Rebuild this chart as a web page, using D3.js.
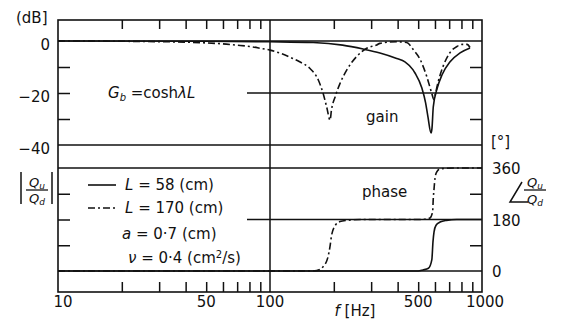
<!DOCTYPE html>
<html>
<head>
<meta charset="utf-8">
<script src="https://cdn.jsdelivr.net/npm/d3@7"></script>
<style>
  body { margin: 0; background: #fff; }
  text { font-family: 'DejaVu Sans', sans-serif; fill: #111; }
</style>
</head>
<body>
<div id="chart"></div>
<script>
// frequency axis
const freqLabels = [10, 50, 100, 500, 1000];
const freqMinor = [20, 30, 40, 50, 60, 70, 80, 90, 200, 300, 400, 500, 600, 700, 800, 900];
// gain axis (dB) and phase axis (deg)
const gainLabels = [0, -20, -40];
const gainMinorLeft = [-10, -20, -30];
const gainMinorRight = [-10, -30];
const phaseLabels = [0, 180, 360];
const phaseMinorLeft = [90, 180, 270];
const phaseMinorRight = [90, 270];

// gain curves [f (Hz), dB]
const gainL58 = [[10, 0], [50, -0.1], [100, -0.3], [160, -0.6], [220, -1.6], [275, -3.1], [330, -4.6],
  [396, -6.7], [433, -8.0], [472, -11], [483, -12.3], [520, -18], [542, -23.8], [556, -29.2],
  [575, -35.4], [581, -33.5], [589, -25.4], [613, -18.5], [648, -13], [707, -8], [788, -4.6], [878, -2.7]];
const gainL170 = [[10, 0], [20, -0.1], [30, -0.25], [40, -0.45], [50, -0.75], [60, -1.1], [70, -1.6],
  [80, -2.1], [90, -2.8], [100, -3.5], [128, -6.7], [138, -8.0], [154, -10.5], [169, -15], [178, -20.1],
  [185, -25.3], [192, -30.4], [195, -26.5], [203, -21.4], [214, -16.3], [230, -11.2], [256, -6.0],
  [286, -2.8], [319, -1.5], [330, -0.9], [396, -0.3], [441, -0.6], [474, -3.3], [510, -7], [548, -13.5],
  [579, -20], [593, -22.5], [600, -21], [620, -16], [655, -9.8], [707, -4.4], [762, -2.1], [813, -1.3],
  [850, -1.3], [878, -2.5]];

// phase curves [f (Hz), deg]
const phaseL58 = [[10, 0], [500, 0], [526, 3.6], [559, 9.7], [580, 40], [587, 101], [594, 137],
  [607, 160], [634, 171], [680, 177], [760, 180], [1000, 180]];
const phaseL170 = [[10, 0], [150, 0], [166, 2], [178, 15], [188, 51], [192, 87], [195, 123], [203, 159],
  [214, 173], [230, 177], [270, 180], [500, 180], [538, 181], [568, 185], [585, 208], [589, 253],
  [594, 287], [600, 323], [611, 346], [634, 357], [680, 359], [760, 360], [1000, 360]];

const W = 561, H = 326;
const frame = {top: 20, bottom: 292, left: 58, right: 482};
const ink = '#111';

const svg = d3.select('#chart').append('svg')
  .attr('width', W).attr('height', H);

const x = d3.scaleLog().domain([10, 1000]).range([frame.left, frame.right]);
const yGain = d3.scaleLinear().domain([0, -40]).range([41, 145]);
const yPhase = d3.scaleLinear().domain([0, 360]).range([271, 168]);

// frame
svg.append('rect')
  .attr('x', frame.left).attr('y', frame.top)
  .attr('width', frame.right - frame.left).attr('height', frame.bottom - frame.top)
  .attr('fill', 'none').attr('stroke', ink).attr('stroke-width', 1.6);

// vertical line at 100 Hz
svg.append('line')
  .attr('x1', x(100)).attr('x2', x(100)).attr('y1', frame.top).attr('y2', frame.bottom)
  .attr('stroke', ink).attr('stroke-width', 1.5);

// full-width horizontal lines
const hFull = [yGain(0), yGain(-40), yPhase(360), yPhase(0)];
hFull.forEach(y => {
  svg.append('line').attr('x1', frame.left).attr('x2', frame.right).attr('y1', y).attr('y2', y)
    .attr('stroke', ink).attr('stroke-width', 1.5);
});
// partial lines at -20 dB and 180 deg
[yGain(-20), yPhase(180)].forEach(y => {
  svg.append('line').attr('x1', 247).attr('x2', frame.right).attr('y1', y).attr('y2', y)
    .attr('stroke', ink).attr('stroke-width', 1.5);
});

function styleAxis(g) {
  g.select('.domain').remove();
  g.selectAll('.tick line').attr('stroke', ink).attr('stroke-width', 1.5);
  g.selectAll('.tick text').remove();
}

// top ticks (hanging down) and bottom ticks (pointing up)
svg.append('g').attr('transform', 'translate(0,' + frame.top + ')')
  .call(d3.axisBottom(x).tickValues(freqMinor).tickSize(9))
  .call(styleAxis);
svg.append('g').attr('transform', 'translate(0,' + frame.bottom + ')')
  .call(d3.axisTop(x).tickValues(freqMinor).tickSize(10))
  .call(styleAxis);

// left / right ticks
svg.append('g').attr('transform', 'translate(' + frame.left + ',0)')
  .call(d3.axisRight(yGain).tickValues(gainMinorLeft).tickSize(12)).call(styleAxis);
svg.append('g').attr('transform', 'translate(' + frame.right + ',0)')
  .call(d3.axisLeft(yGain).tickValues(gainMinorRight).tickSize(12)).call(styleAxis);
svg.append('g').attr('transform', 'translate(' + frame.left + ',0)')
  .call(d3.axisRight(yPhase).tickValues(phaseMinorLeft).tickSize(12)).call(styleAxis);
svg.append('g').attr('transform', 'translate(' + frame.right + ',0)')
  .call(d3.axisLeft(yPhase).tickValues(phaseMinorRight).tickSize(12)).call(styleAxis);

// curves
const gainLine = d3.line().curve(d3.curveMonotoneX)
  .x(d => x(d[0])).y(d => yGain(d[1]));
const phaseLine = d3.line().curve(d3.curveMonotoneX)
  .x(d => x(d[0])).y(d => yPhase(d[1]));

const dashDot = '7,3,2,3';
svg.append('path').datum(gainL58).attr('d', gainLine)
  .attr('fill', 'none').attr('stroke', ink).attr('stroke-width', 1.6);
svg.append('path').datum(gainL170).attr('d', gainLine)
  .attr('fill', 'none').attr('stroke', ink).attr('stroke-width', 1.6).attr('stroke-dasharray', dashDot);
svg.append('path').datum(phaseL58).attr('d', phaseLine)
  .attr('fill', 'none').attr('stroke', ink).attr('stroke-width', 1.6);
svg.append('path').datum(phaseL170).attr('d', phaseLine)
  .attr('fill', 'none').attr('stroke', ink).attr('stroke-width', 1.6).attr('stroke-dasharray', dashDot);

// tick labels
const fs = 15;
freqLabels.forEach(f => {
  svg.append('text').attr('x', x(f) + (f === 10 ? 5 : f === 1000 ? 3 : 0)).attr('y', 307)
    .attr('text-anchor', 'middle').style('font-size', fs + 'px').text(f);
});
svg.append('text').attr('x', 355).attr('y', 316).attr('text-anchor', 'middle')
  .style('font-size', fs + 'px')
  .html('<tspan font-style="italic">f</tspan> [Hz]');

gainLabels.forEach(v => {
  svg.append('text').attr('x', 50).attr('y', yGain(v) + 4).attr('dy', '0.35em')
    .attr('text-anchor', 'end').style('font-size', fs + 'px')
    .text(v === 0 ? '0' : '\u2212' + Math.abs(v));
});
phaseLabels.forEach(v => {
  svg.append('text').attr('x', 492).attr('y', yPhase(v) + 1).attr('dy', '0.35em')
    .attr('text-anchor', 'start').style('font-size', fs + 'px').text(v);
});

// unit labels
svg.append('text').attr('x', 16).attr('y', 23).style('font-size', fs + 'px').text('(dB]');
svg.append('text').attr('x', 491).attr('y', 147).style('font-size', fs + 'px').text('[°]');

// |Qu/Qd| on the left
const lq = svg.append('g');
lq.append('line').attr('x1', 21).attr('x2', 21).attr('y1', 172).attr('y2', 204).attr('stroke', ink).attr('stroke-width', 1.5);
lq.append('line').attr('x1', 52).attr('x2', 52).attr('y1', 172).attr('y2', 204).attr('stroke', ink).attr('stroke-width', 1.5);
lq.append('line').attr('x1', 26).attr('x2', 48).attr('y1', 190).attr('y2', 190).attr('stroke', ink).attr('stroke-width', 1.3);
lq.append('text').attr('x', 37).attr('y', 187).attr('text-anchor', 'middle').style('font-size', '13px')
  .style('font-style', 'italic').html('Q<tspan font-size="9px" dy="2">u</tspan>');
lq.append('text').attr('x', 37).attr('y', 203).attr('text-anchor', 'middle').style('font-size', '13px')
  .style('font-style', 'italic').html('Q<tspan font-size="9px" dy="2">d</tspan>');

// angle Qu/Qd on the right
const rq = svg.append('g');
rq.append('path').attr('d', 'M522,182 L510,202 L528,202').attr('fill', 'none')
  .attr('stroke', ink).attr('stroke-width', 1.5);
rq.append('line').attr('x1', 524).attr('x2', 546).attr('y1', 190).attr('y2', 190).attr('stroke', ink).attr('stroke-width', 1.3);
rq.append('text').attr('x', 535).attr('y', 187).attr('text-anchor', 'middle').style('font-size', '13px')
  .style('font-style', 'italic').html('Q<tspan font-size="9px" dy="2">u</tspan>');
rq.append('text').attr('x', 535).attr('y', 204).attr('text-anchor', 'middle').style('font-size', '13px')
  .style('font-style', 'italic').html('Q<tspan font-size="9px" dy="2">d</tspan>');

// annotations
svg.append('text').attr('x', 108).attr('y', 98).style('font-size', fs + 'px')
  .html('<tspan font-style="italic">G</tspan><tspan font-style="italic" font-size="10px" dy="3">b</tspan><tspan dy="-3"> =cosh</tspan><tspan font-style="italic">λL</tspan>');
svg.append('text').attr('x', 366).attr('y', 122).style('font-size', fs + 'px').text('gain');
svg.append('text').attr('x', 362).attr('y', 197).style('font-size', fs + 'px').text('phase');

// legend
svg.append('line').attr('x1', 88).attr('x2', 116).attr('y1', 185).attr('y2', 185)
  .attr('stroke', ink).attr('stroke-width', 1.6);
svg.append('line').attr('x1', 88).attr('x2', 116).attr('y1', 208).attr('y2', 208)
  .attr('stroke', ink).attr('stroke-width', 1.6).attr('stroke-dasharray', dashDot);
svg.append('text').attr('x', 125).attr('y', 190).style('font-size', fs + 'px')
  .html('<tspan font-style="italic">L</tspan> = 58  (cm)');
svg.append('text').attr('x', 125).attr('y', 213).style('font-size', fs + 'px')
  .html('<tspan font-style="italic">L</tspan> = 170 (cm)');
svg.append('text').attr('x', 122).attr('y', 239).style('font-size', fs + 'px')
  .html('<tspan font-style="italic">a</tspan> = 0·7 (cm)');
svg.append('text').attr('x', 128).attr('y', 263).style('font-size', fs + 'px')
  .html('<tspan font-style="italic">ν</tspan> = 0·4 (cm<tspan font-size="10px" dy="-5">2</tspan><tspan dy="5">/s)</tspan>');
</script>
</body>
</html>
